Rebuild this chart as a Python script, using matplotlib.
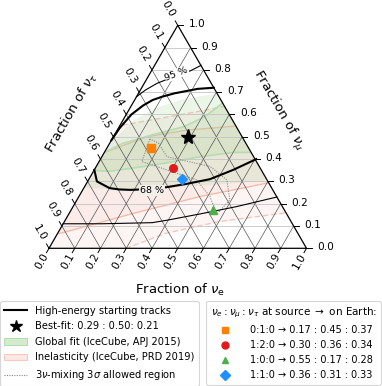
import numpy as np
import matplotlib
matplotlib.use("Agg")
import matplotlib.pyplot as plt
from matplotlib.lines import Line2D
from matplotlib.patches import Patch, Polygon

plt.rcParams['font.family'] = ['DejaVu Sans']
plt.rcParams['mathtext.fontset'] = 'dejavusans'

# ---------------- data (fractions nu_e, nu_mu) ----------------
tick_values = [0.0, 0.1, 0.2, 0.3, 0.4, 0.5, 0.6, 0.7, 0.8, 0.9, 1.0]
tick_labels = ['0.0', '0.1', '0.2', '0.3', '0.4', '0.5', '0.6', '0.7', '0.8', '0.9', '1.0']

best_fit = [0.29, 0.50, 0.21]

source_labels = ['0:1:0', '1:2:0', '1:0:0', '1:1:0']
earth_e = [0.17, 0.30, 0.55, 0.36]
earth_mu = [0.45, 0.36, 0.17, 0.31]
earth_tau = [0.37, 0.34, 0.28, 0.33]
source_markers = ['s', 'o', '^', 'D']
source_colors = ['#ff8000', '#e31a1c', '#4daf4a', '#1e90ff']

# HESE tracks contours (68 %, 95 %)
hese68_up_e = [0.00, 0.005, 0.02, 0.045, 0.07, 0.10, 0.14, 0.18, 0.22, 0.28]
hese68_up_mu = [0.485, 0.54, 0.60, 0.64, 0.665, 0.68, 0.695, 0.705, 0.715, 0.72]
hese68_lo_e = [0.00, 0.036, 0.10, 0.139, 0.184, 0.208, 0.32, 0.39, 0.47, 0.54, 0.605]
hese68_lo_mu = [0.352, 0.30, 0.27, 0.264, 0.262, 0.263, 0.274, 0.289, 0.31, 0.352, 0.40]
hese95_up_e = [0.00, 0.02, 0.05, 0.10, 0.15, 0.18]
hese95_up_mu = [0.68, 0.71, 0.74, 0.77, 0.795, 0.82]
hese95_lo_e = [0.00, 0.15, 0.344, 0.40, 0.521, 0.635, 0.77]
hese95_lo_mu = [0.11, 0.11, 0.115, 0.127, 0.157, 0.187, 0.23]

# Global fit (IceCube, ApJ 2015)
glob95_e = [-0.05, 0.00, 0.04, 0.10, 0.18, 0.26, 0.36, 0.60, 0.75, 0.66, 0.50, 0.30, 0.12, 0.02, -0.05]
glob95_mu = [0.45, 0.47, 0.57, 0.63, 0.665, 0.685, 0.70, 0.55, 0.32, 0.30, 0.285, 0.27, 0.265, 0.27, 0.28]
glob68_e = [-0.03, 0.00, 0.05, 0.15, 0.25, 0.31, 0.36, 0.55, 0.62, 0.50, 0.38, 0.25, 0.15, 0.06, 0.00, -0.03]
glob68_mu = [0.40, 0.43, 0.47, 0.51, 0.545, 0.59, 0.67, 0.50, 0.43, 0.43, 0.41, 0.38, 0.36, 0.345, 0.35, 0.37]

# Inelasticity (IceCube, PRD 2019)
inel68_e = [-0.03, 0.01, 0.25, 0.47, 0.70, 0.85, 0.60, 0.47, 0.27, 0.13, 0.00, -0.05]
inel68_mu = [0.06, 0.067, 0.157, 0.232, 0.292, 0.33, 0.60, 0.55, 0.53, 0.50, 0.43, 0.40]
inel95_e = [0.20, 0.30, 0.42, 0.60, 0.83, 0.95, 0.60, 0.30, 0.00, -0.10, -0.10]
inel95_mu = [-0.05, 0.00, 0.067, 0.12, 0.157, 0.19, 0.70, 0.62, 0.55, 0.50, -0.05]

# 3nu-mixing 3 sigma allowed region
mix_e = [0.147, 0.166, 0.42, 0.509, 0.575, 0.594, 0.537, 0.442, 0.252, 0.189]
mix_mu = [0.49, 0.389, 0.307, 0.232, 0.154, 0.217, 0.307, 0.367, 0.411, 0.472]

S3 = np.sqrt(3) / 2


def tern(e, mu):
    e = np.asarray(e, float)
    mu = np.asarray(mu, float)
    return e + mu / 2, mu * S3


fig = plt.figure(figsize=(3.82, 3.86), dpi=100)
ax = fig.add_axes([0, 0, 1, 1])
PX = 257.5
ax.set_xlim(-49 / PX, (382 - 49) / PX)
ax.set_ylim((248.3 - 386) / PX, 248.3 / PX)
ax.axis('off')

tri = Polygon([[0, 0], [1, 0], [0.5, S3]], closed=True, facecolor='none', edgecolor='none',
              transform=ax.transData)
ax.add_patch(tri)


# ---- filled regions ----
def fill_region(e, mu, fc, ec, alpha, ls='-', lw=0.9, z=1, ealpha=None):
    x, y = tern(e, mu)
    p = Polygon(np.column_stack([x, y]), closed=True, facecolor=fc, edgecolor='none',
                alpha=alpha, zorder=z)
    ax.add_patch(p)
    p.set_clip_path(tri)
    if ec is not None:
        xx = np.append(x, x[0])
        yy = np.append(y, y[0])
        ln, = ax.plot(xx, yy, color=ec, lw=lw, ls=ls, zorder=z + 0.1, alpha=ealpha)
        ln.set_clip_path(tri)


fill_region(inel95_e, inel95_mu, '#f6c2b8', '#f7c4b8', 0.16, ls=(0, (4, 2)), lw=1.0, z=1)
fill_region(inel68_e, inel68_mu, '#f6c2b8', '#f5bba9', 0.16, lw=1.0, z=1.2)
fill_region(glob95_e, glob95_mu, '#a6d39a', None, 0.22, z=1.4)
fill_region(glob68_e, glob68_mu, '#a6d39a', '#b5ddb0', 0.20, lw=1.2, z=1.6)

# ---- grid ----
for t in tick_values[1:-1]:
    x, y = tern([0, 1 - t], [t, t])
    ax.plot(x, y, color='#c4c4c4', lw=0.6, zorder=2)
    x, y = tern([t, t], [0, 1 - t])
    ax.plot(x, y, color='#555555', lw=0.5, zorder=2)
    x, y = tern([0, 1 - t], [1 - t, 0])
    ax.plot(x, y, color='#555555', lw=0.5, zorder=2)

x, y = tern([0, 1, 0, 0], [0, 0, 1, 0])
ax.plot(x, y, color='black', lw=0.9, zorder=3, solid_joinstyle='miter')

# ---- ticks and tick labels ----
tl = 5 / PX
for t, lab in zip(tick_values, tick_labels):
    x0, y0 = tern(t, 0)
    d = np.array([-0.5, -S3])
    ax.plot([x0, x0 + tl * d[0]], [y0, y0 + tl * d[1]], color='black', lw=0.7)
    off = 14.5 / PX
    ax.text(x0 + off * d[0], y0 + off * d[1], lab, rotation=60, ha='center', va='center',
            rotation_mode='anchor', fontsize=7.6)
    x0, y0 = tern(1 - t, t)
    ax.plot([x0, x0 + tl], [y0, y0], color='black', lw=0.7)
    ax.text(x0 + 19 / PX, y0 + 1 / PX, lab, ha='center', va='center', fontsize=7.6)
    x0, y0 = tern(0, 1 - t)
    d = np.array([-0.5, S3])
    ax.plot([x0, x0 + tl * d[0]], [y0, y0 + tl * d[1]], color='black', lw=0.7)
    off = 18.5 / PX
    ax.text(x0 + off * d[0], y0 + off * d[1], lab, rotation=-60, ha='center', va='center',
            rotation_mode='anchor', fontsize=7.6)

# axis labels
ax.text((180 - 49) / PX, (248.3 - 290) / PX, r'Fraction of $\nu_\mathrm{e}$', ha='center',
        va='center', fontsize=9.5)
ax.text((278 - 49) / PX, (248.3 - 110) / PX, r'Fraction of $\nu_\mu$', ha='center',
        va='center', rotation=-60, rotation_mode='anchor', fontsize=9.5)
ax.text((72 - 49) / PX, (248.3 - 113) / PX, r'Fraction of $\nu_\tau$', ha='center',
        va='center', rotation=60, rotation_mode='anchor', fontsize=9.5)

# ---- 3nu mixing region ----
x, y = tern(mix_e + mix_e[:1], mix_mu + mix_mu[:1])
ax.plot(x, y, color='#888888', lw=0.8, ls=(0, (1, 1.2)), zorder=4)

# ---- HESE contours ----
x, y = tern(hese68_up_e, hese68_up_mu)
ax.plot(x, y, color='black', lw=1.5, zorder=5)
x, y = tern(hese68_lo_e, hese68_lo_mu)
ax.plot(x, y, color='black', lw=1.5, zorder=5)
x, y = tern(hese95_up_e, hese95_up_mu)
ax.plot(x, y, color='black', lw=0.8, zorder=5)
x, y = tern(hese95_lo_e, hese95_lo_mu)
ax.plot(x, y, color='black', lw=0.8, zorder=5)

lx, ly = tern(0.268, 0.261)
ax.text(lx, ly, '68 %', fontsize=6.8, ha='center', va='center', zorder=6,
        bbox=dict(boxstyle='square,pad=0.1', fc='#f4eee9', ec='none'))
lx, ly = tern(0.104, 0.783)
ax.text(lx, ly, '95 %', fontsize=6.8, ha='center', va='center', rotation=22, zorder=6,
        bbox=dict(boxstyle='square,pad=0.05', fc='white', ec='none'))

# ---- points ----
bx, by = tern(best_fit[0], best_fit[1])
ax.plot(bx, by, marker='*', color='black', ms=11, ls='none', zorder=8)
for e, m, mk, c in zip(earth_e, earth_mu, source_markers, source_colors):
    x, y = tern(e, m)
    ax.plot(x, y, marker=mk, color=c, ms=5.5 if mk != 'D' else 5, ls='none', zorder=8)

# ---- legends ----
h1 = [Line2D([], [], color='black', lw=1.5),
      Line2D([], [], marker='*', color='black', ms=9, ls='none'),
      Patch(facecolor='#d5ebcf', edgecolor='#b5ddb0', lw=0.8),
      Patch(facecolor='#fce8e4', edgecolor='#f7c9bf', lw=0.8),
      Line2D([], [], color='#888888', lw=0.8, ls=(0, (1, 1.2)))]
l1 = ['High-energy starting tracks',
      'Best-fit: %.2f : %.2f: %.2f' % tuple(best_fit),
      'Global fit (IceCube, APJ 2015)',
      'Inelasticity (IceCube, PRD 2019)',
      r'3$\nu$-mixing 3$\sigma$ allowed region']
leg1 = fig.legend(h1, l1, loc='upper left', bbox_to_anchor=(0.0, 0.219), fontsize=7.1,
                  frameon=True, labelspacing=0.56, handlelength=2.3, borderaxespad=0,
                  handletextpad=0.8, borderpad=0.45)
leg1.get_frame().set_linewidth(0.8)

h2 = [Line2D([], [], marker=mk, color=c, ms=5 if mk != 'D' else 4.6, ls='none')
      for mk, c in zip(source_markers, source_colors)]
l2 = ['%s \u2192 %.2f : %.2f : %.2f' % (s, e, m, t)
      for s, e, m, t in zip(source_labels, earth_e, earth_mu, earth_tau)]
leg2 = fig.legend(h2, l2, loc='upper right', bbox_to_anchor=(0.998, 0.219), fontsize=7.0,
                  title=r'$\nu_e:\nu_\mu:\nu_\tau$ at source $\rightarrow$ on Earth:',
                  title_fontsize=7.5, frameon=True, labelspacing=0.52, borderaxespad=0,
                  handletextpad=1.6, borderpad=0.45)
leg2.get_frame().set_linewidth(0.8)

fig.savefig('out.png', dpi=100)
